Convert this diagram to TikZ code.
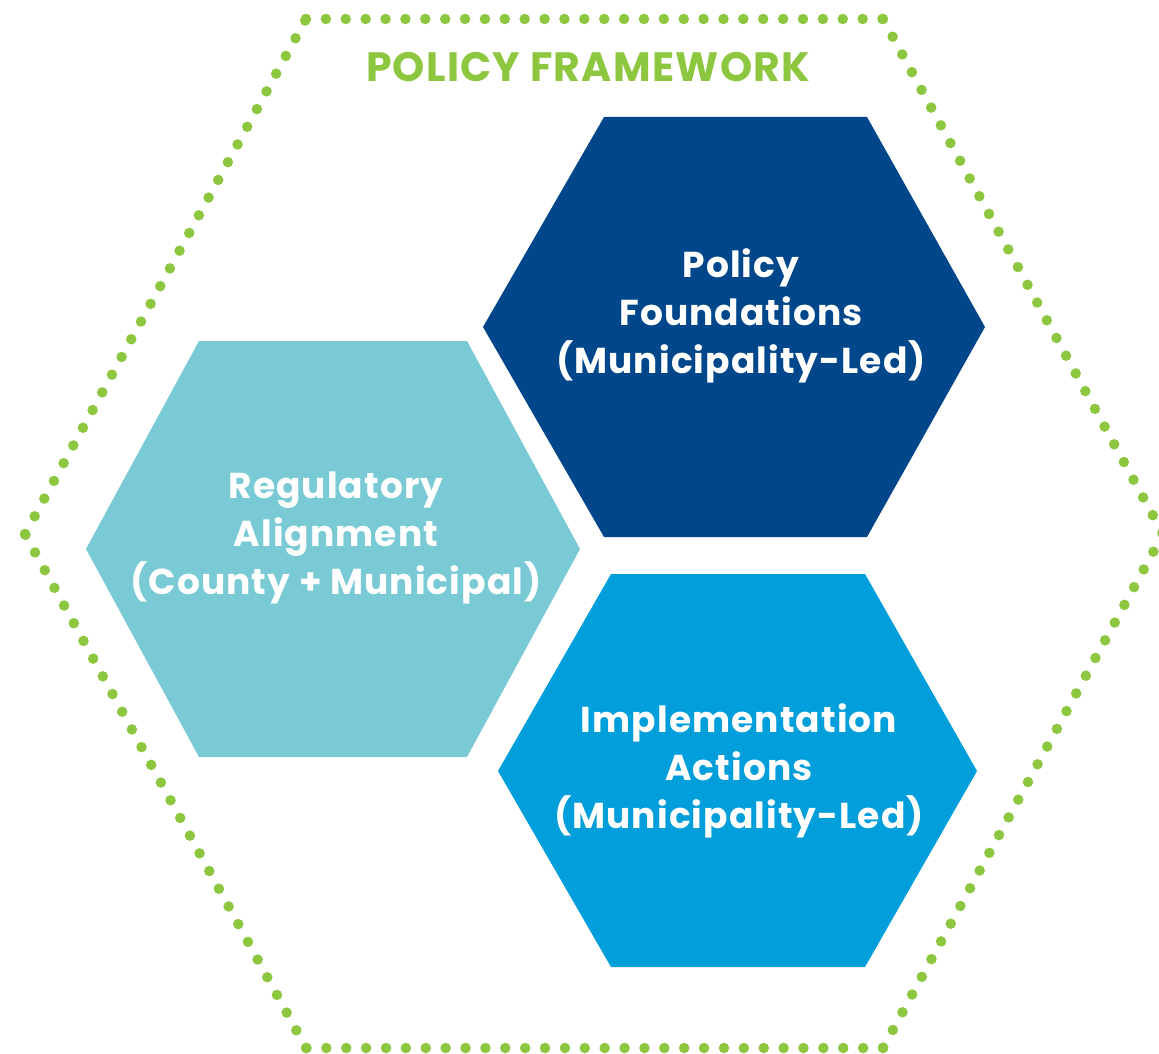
\documentclass[tikz,border=0pt]{standalone}
\usepackage{fontspec}
\setmainfont{Poppins}[BoldFont={Poppins Bold}]
\newfontfamily\hexfont{Poppins}[BoldFont={Poppins Bold}, LetterSpace=3]
\usetikzlibrary{calc}
\definecolor{dotgreen}{HTML}{8DC63F}
\definecolor{darkblue}{HTML}{00468B}
\definecolor{tealblue}{HTML}{7ACAD6}
\definecolor{midblue}{HTML}{009EDB}
\tikzset{
  dotside/.style={draw=dotgreen, line width=10.5pt, line cap=round, dash pattern=on 0pt off #1pt},
  hexlabel/.style={text=white, font=\hexfont\bfseries\fontsize{36}{48}\selectfont, align=center, inner sep=0pt},
  titlelabel/.style={text=dotgreen, font=\hexfont\bfseries\fontsize{41}{48}\selectfont, inner sep=0pt}
}
\begin{document}
\begin{tikzpicture}[x=1pt,y=-1pt]
\clip (0,0) rectangle (1159,1054);
\fill[white] (0,0) rectangle (1159,1054);
% outer dotted hexagon corners
\coordinate (o1) at (306,19);
\coordinate (o2) at (883,19);
\coordinate (o3) at (1163,534);
\coordinate (o4) at (883,1048);
\coordinate (o5) at (306,1048);
\coordinate (o6) at (25,534);
\draw[dotside=19.88] (o1) -- (o2);
\draw[dotside=20.17] (o2) -- (o3);
\draw[dotside=20.17] (o3) -- (o4);
\draw[dotside=19.88] (o4) -- (o5);
\draw[dotside=20.17] (o5) -- (o6);
\draw[dotside=20.17] (o6) -- (o1);
\node[titlelabel, anchor=base] (title) at (588,82) {POLICY FRAMEWORK};
% hexagons
\fill[darkblue] (604,117) -- (867,117) -- (985,327) -- (867,537) -- (604,537) -- (483,327) -- cycle;
\fill[tealblue] (199,341) -- (467,341) -- (580,549) -- (467,757) -- (199,757) -- (86,549) -- cycle;
\fill[midblue] (611,574) -- (865,574) -- (977,771) -- (865,967) -- (611,967) -- (498,771) -- cycle;
\node[hexlabel] (found) at (741,316) {Policy\\Foundations\\(Municipality-Led)};
\node[hexlabel] (reg) at (336,538) {Regulatory\\Alignment\\(County + Municipal)};
\node[hexlabel] (impl) at (739,771) {Implementation\\Actions\\(Municipality-Led)};
\end{tikzpicture}
\end{document}
